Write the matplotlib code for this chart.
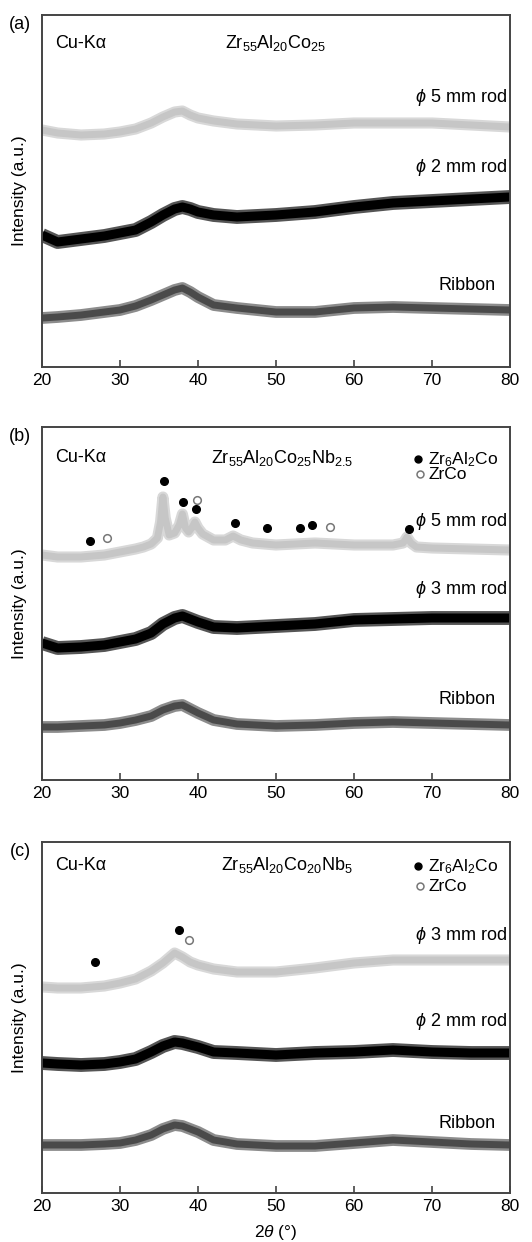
import matplotlib
matplotlib.use("Agg")
import matplotlib.pyplot as plt

plt.rcParams['font.family'] = ['Liberation Sans', 'DejaVu Sans']
plt.rcParams['mathtext.fontset'] = 'custom'
plt.rcParams['mathtext.rm'] = 'Liberation Sans'
plt.rcParams['mathtext.it'] = 'Liberation Sans:italic'
plt.rcParams['mathtext.bf'] = 'Liberation Sans:bold'

# ---------------- data (arbitrary intensity units) ----------------
# Panel (a) Zr55Al20Co25
a_x = [20, 22, 25, 28, 30, 32, 34, 35.5, 37, 38, 39, 40, 42, 45, 50, 55, 60, 65, 70, 75, 80]
a_rod5 = [237, 234, 232, 233, 235, 238, 244, 250, 255, 256, 252, 249, 246, 243, 241, 242, 244, 244, 244, 242, 240]
a_rod2 = [132, 125, 128, 131, 134, 137, 145, 152, 158, 160, 158, 155, 152, 150, 152, 155, 160, 164, 166, 168, 170]
a_ribbon = [49, 50, 52, 55, 57, 61, 67, 72, 77, 79, 75, 70, 62, 59, 55, 55, 59, 60, 59, 58, 57]

# Panel (b) Zr55Al20Co25Nb2.5
b5_x = [20, 22, 25, 28, 30, 32, 33, 34, 34.8, 35.2, 35.5, 35.8, 36.3, 37.0, 37.6, 38.0, 38.4, 38.8,
        39.2, 39.6, 40.0, 40.6, 42, 43.5, 44.5, 45.5, 47, 50, 55, 60, 65, 66.3, 66.8, 67.3, 68, 70, 75, 80]
b_rod5 = [225, 223, 223, 225, 228, 231, 233, 236, 242, 258, 283, 262, 245, 247, 255, 266, 252, 248,
          252, 258, 252, 246, 240, 240, 244, 240, 237, 235, 237, 235, 235, 237, 243, 237, 233, 232, 231, 230]
b_x = [20, 22, 25, 28, 30, 32, 34, 35.5, 37, 38, 39, 40, 42, 45, 50, 55, 60, 65, 70, 75, 80]
b_rod3 = [137, 132, 133, 135, 138, 141, 147, 156, 162, 164, 161, 158, 153, 152, 154, 156, 160, 161, 162, 162, 162]
b_ribbon = [53, 53, 54, 55, 57, 60, 64, 70, 74, 75, 71, 67, 60, 56, 54, 55, 57, 58, 57, 56, 55]

# Panel (c) Zr55Al20Co20Nb5
c_x = [20, 22, 25, 28, 30, 32, 34, 35.5, 37, 38, 39, 40, 42, 45, 50, 55, 60, 65, 70, 75, 80]
c_rod3 = [206, 205, 205, 207, 210, 214, 222, 230, 240, 236, 231, 228, 224, 221, 221, 225, 230, 233, 233, 233, 233]
c_rod2 = [130, 129, 128, 129, 131, 134, 141, 147, 151, 150, 148, 146, 141, 140, 138, 140, 141, 143, 141, 140, 140]
c_ribbon = [48, 48, 48, 49, 50, 53, 58, 64, 68, 67, 64, 61, 53, 49, 47, 47, 50, 53, 51, 49, 48]

# phase markers (2theta, height)
b_zr6_x = [26.2, 35.6, 38.1, 39.7, 44.7, 48.8, 53.1, 54.6, 67.1]
b_zr6_y = [239, 299, 278, 271, 257, 252, 252, 255, 251]
b_zrco_x = [28.3, 39.9, 56.9]
b_zrco_y = [242, 280, 253]
c_zr6_x = [26.8, 37.5]
c_zr6_y = [231, 263]
c_zrco_x = [38.8]
c_zrco_y = [253]

xticks = [20, 30, 40, 50, 60, 70, 80]

# ---------------- styles ----------------
LIGHT = '#c6c6c6'
RIB_CORE = '#4a4a4a'
RIB_HALO = '#8c8c8c'

W, H = 532, 1242
fig = plt.figure(figsize=(W / 100, H / 100), dpi=100)

panels = [  # (top px, bottom px)
    (15, 367), (427, 780), (842, 1193)
]
left_px, right_px = 42, 510
FS = 13


def make_ax(top, bottom):
    ax = fig.add_axes([left_px / W, 1 - bottom / H, (right_px - left_px) / W, (bottom - top) / H])
    ax.set_xlim(20, 80)
    ax.set_ylim(0, bottom - top)
    ax.set_xticks(xticks)
    ax.set_yticks([])
    ax.tick_params(axis='x', direction='in', length=5, width=1.2, color='#444444',
                   labelsize=12.5, pad=4)
    for s in ax.spines.values():
        s.set_color('#444444')
        s.set_linewidth(1.4)
    ax.set_ylabel('Intensity (a.u.)', fontsize=12.5)
    ax.yaxis.set_label_coords(-0.031, 0.5)
    return ax


def band(ax, x, y, kind):
    kw = dict(solid_joinstyle='round', solid_capstyle='butt')
    if kind == 'light':
        ax.plot(x, y, color='#d8d8d8', lw=8.0, **kw)
        ax.plot(x, y, color=LIGHT, lw=5.0, **kw)
    elif kind == 'black':
        ax.plot(x, y, color='#555555', lw=10, **kw)
        ax.plot(x, y, color='#000000', lw=6.5, **kw)
    else:
        ax.plot(x, y, color=RIB_HALO, lw=8.5, **kw)
        ax.plot(x, y, color=RIB_CORE, lw=5, **kw)


def common_text(ax, label, title, title_x, top_y):
    ax.text(21.7, top_y, 'Cu-Kα', fontsize=FS, va='center', ha='left')
    ax.text(title_x, top_y, title, fontsize=FS, va='center', ha='center')
    ax.text(-0.047, 0.972, label, transform=ax.transAxes, fontsize=FS, ha='center', va='center')


def legend_marks(ax, y1, y2):
    ax.plot([68.2], [y1 + 5], 'o', ms=5, color='black')
    ax.plot([68.5], [y2 + 5], 'o', ms=5, mfc='white', mec='#777777', mew=1.1)
    ax.text(69.5, y1, 'Zr$_6$Al$_2$Co', fontsize=12.5, va='baseline', ha='left')
    ax.text(69.5, y2, 'ZrCo', fontsize=12.5, va='baseline', ha='left')


# ---- (a)
ax = make_ax(*panels[0])
band(ax, a_x, a_rod5, 'light')
band(ax, a_x, a_rod2, 'black')
band(ax, a_x, a_ribbon, 'rib')
common_text(ax, '(a)', 'Zr$_{55}$Al$_{20}$Co$_{25}$', 49.9, 324)
ax.text(79.6, 269, r'$\phi$ 5 mm rod', fontsize=FS, ha='right', va='center')
ax.text(79.6, 199, r'$\phi$ 2 mm rod', fontsize=FS, ha='right', va='center')
ax.text(78.1, 82, 'Ribbon', fontsize=FS, ha='right', va='center')

# ---- (b)
ax = make_ax(*panels[1])
band(ax, b5_x, b_rod5, 'light')
band(ax, b_x, b_rod3, 'black')
band(ax, b_x, b_ribbon, 'rib')
ax.plot(b_zr6_x, b_zr6_y, 'o', ms=5.5, color='black', ls='none')
ax.plot(b_zrco_x, b_zrco_y, 'o', ms=5.5, mfc='white', mec='#777777', mew=1.1, ls='none')
common_text(ax, '(b)', 'Zr$_{55}$Al$_{20}$Co$_{25}$Nb$_{2.5}$', 50.8, 322)
legend_marks(ax, 316, 301)
ax.text(79.6, 259, r'$\phi$ 5 mm rod', fontsize=FS, ha='right', va='center')
ax.text(79.6, 190, r'$\phi$ 3 mm rod', fontsize=FS, ha='right', va='center')
ax.text(78.1, 80, 'Ribbon', fontsize=FS, ha='right', va='center')

# ---- (c)
ax = make_ax(*panels[2])
band(ax, c_x, c_rod3, 'light')
band(ax, c_x, c_rod2, 'black')
band(ax, c_x, c_ribbon, 'rib')
ax.plot(c_zr6_x, c_zr6_y, 'o', ms=5.5, color='black', ls='none')
ax.plot(c_zrco_x, c_zrco_y, 'o', ms=5.5, mfc='white', mec='#777777', mew=1.1, ls='none')
common_text(ax, '(c)', 'Zr$_{55}$Al$_{20}$Co$_{20}$Nb$_{5}$', 51.4, 328)
legend_marks(ax, 322, 302)
ax.text(79.6, 258, r'$\phi$ 3 mm rod', fontsize=FS, ha='right', va='center')
ax.text(79.6, 171, r'$\phi$ 2 mm rod', fontsize=FS, ha='right', va='center')
ax.text(78.1, 70, 'Ribbon', fontsize=FS, ha='right', va='center')
ax.set_xlabel(r'2$\theta$ (°)', fontsize=12.5, labelpad=7)

fig.savefig('out.png', dpi=100)
